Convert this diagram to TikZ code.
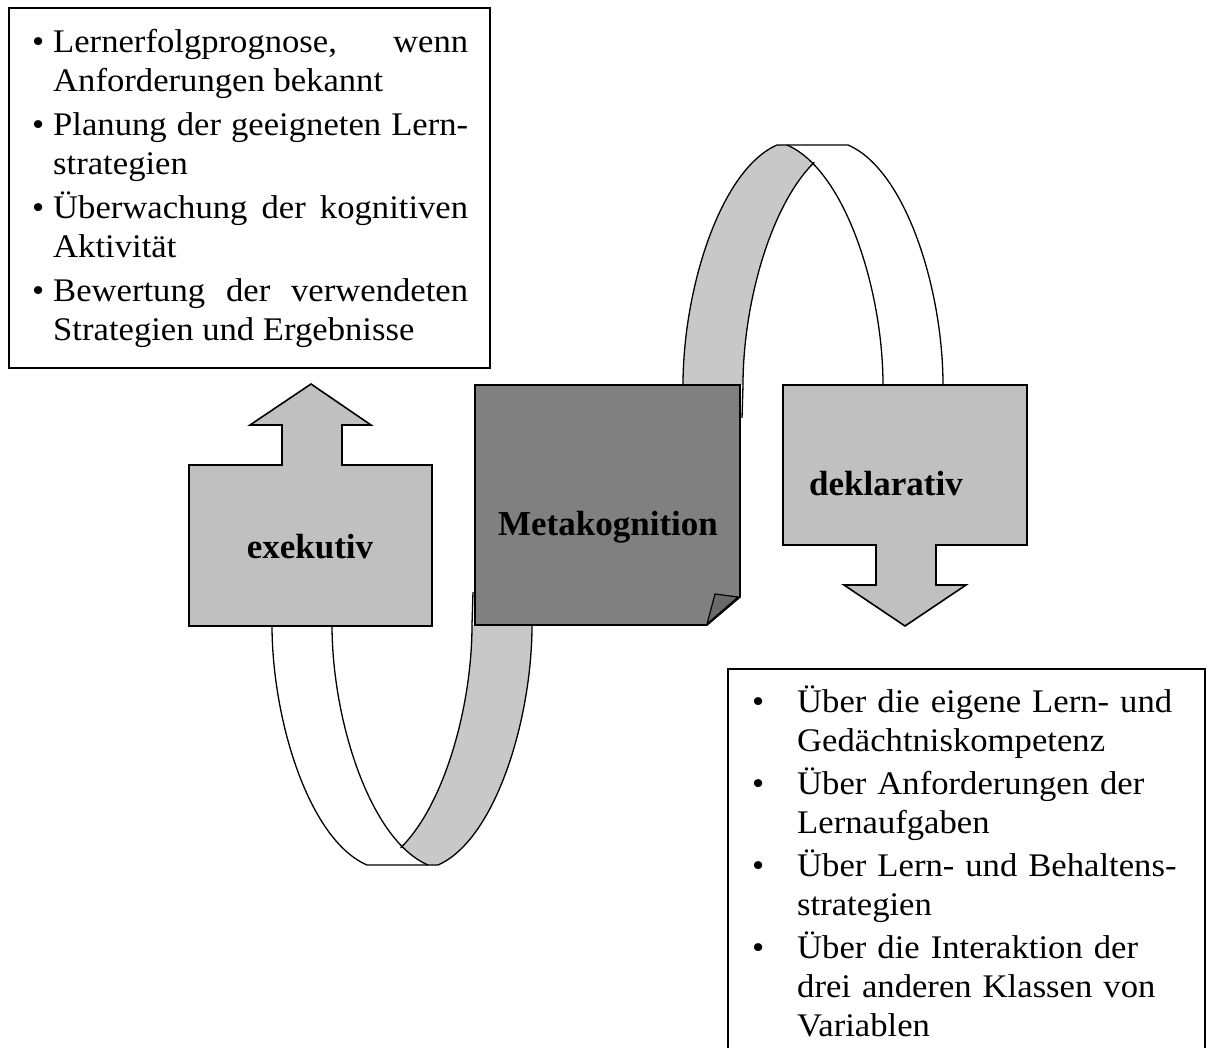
\documentclass[tikz,border=0pt]{standalone}
\usepackage{fontspec}
\setmainfont{Liberation Serif}
\newfontfamily\listfont[FakeStretch=1.05]{Liberation Serif}
\definecolor{bandgray}{HTML}{C8C8C8}
\definecolor{boxgray}{HTML}{C0C0C0}
\definecolor{metagray}{HTML}{808080}
\definecolor{foldgray}{HTML}{6A6A6A}
\newcommand\bulletline[1]{\noindent\hangindent=#1\hangafter=1\makebox[#1][l]{\textbullet}}
\newcommand\drawribbonarch{%
  \fill[bandgray] (683,385) .. controls (683,290) and (720,170) .. (777,145)
     -- (787,145) .. controls (795.7,148.75) and (803.95,154.64) .. (811.7,162.25)
     -- (814.3,162.25) .. controls (770.4,205.4) and (743,304.25) .. (743,385) -- cycle;
  \draw[archedge] (683,385) .. controls (683,290) and (720,170) .. (777,145)
     -- (848,145) .. controls (906,170) and (943,290) .. (943,385);
  \draw[archedge] (787,145) .. controls (845,170) and (883,290) .. (883,385);
  \draw[archedge] (814.3,162.25) .. controls (770.4,205.4) and (743,304.25) .. (743,385) -- (742,418);
}
\begin{document}
\begin{tikzpicture}[x=1pt,y=-1pt,
  archedge/.style={draw=black,line width=1.3pt},
  shapebox/.style={draw=black,line width=1.6pt,line join=miter},
  framebox/.style={draw=black,line width=1.6pt},
  boldlabel/.style={inner sep=0pt,font=\fontsize{35}{40}\selectfont\bfseries},
  listtext/.style={inner sep=0pt,anchor=base west,font=\listfont\fontsize{33}{39}\selectfont}]
\useasboundingbox[fill=white] (0,0) rectangle (1210,1048);

% ribbon: upper arch and the same arch turned about the centre of the middle box
\drawribbonarch
\begin{scope}[rotate around={180:(607.5,505)}]
  \drawribbonarch
\end{scope}

% exekutiv block arrow (up)
\filldraw[shapebox,fill=boxgray] (189,465) -- (282,465) -- (282,425) -- (250,425) -- (311,384)
   -- (371,425) -- (342,425) -- (342,465) -- (432,465) -- (432,626) -- (189,626) -- cycle;
\node[boldlabel,anchor=base] (exek) at (310,558) {exekutiv};

% deklarativ block arrow (down)
\filldraw[shapebox,fill=boxgray] (783,385) -- (1027,385) -- (1027,545) -- (936,545) -- (936,585)
   -- (966,585) -- (905,626) -- (844,585) -- (876,585) -- (876,545) -- (783,545) -- cycle;
\node[boldlabel,anchor=base west] (dekl) at (809,495) {deklarativ};

% Metakognition box with folded corner
\filldraw[shapebox,fill=metagray] (475,385) -- (740,385) -- (740,597) -- (707,625) -- (475,625) -- cycle;
\filldraw[draw=black,line width=1.2pt,fill=foldgray] (707,624) -- (715,594) -- (738,597) -- cycle;
\node[boldlabel,anchor=base] (meta) at (608,535) {Metakognition};

% upper left list
\draw[framebox] (9,8) rectangle (490,368);
\node[listtext,text width=436pt,align=justify] (exlist) at (32,53) {%
\bulletline{21pt}Lernerfolgprognose, wenn\linebreak Anforderungen bekannt\par\vskip5pt
\bulletline{21pt}Planung der geeigneten Lern-\linebreak strategien\par\vskip5pt
\bulletline{21pt}Überwachung der kognitiven\linebreak Aktivität\par\vskip5pt
\bulletline{21pt}Bewertung der verwendeten\linebreak Strategien und Ergebnisse\par};

% lower right list
\draw[framebox] (728,1060) -- (728,669) -- (1205,669) -- (1205,1060);
\node[listtext,text width=450pt] (deklist) at (752,712) {%
\rightskip=0pt plus 1fil\parfillskip=0pt plus 1fil
\bulletline{45pt}Über die eigene Lern- und\hfil\break Gedächtniskompetenz\par\vskip4pt
\bulletline{45pt}Über Anforderungen der\hfil\break Lernaufgaben\par\vskip4pt
\bulletline{45pt}Über Lern- und Behaltens-\hfil\break strategien\par\vskip4pt
\bulletline{45pt}Über die Interaktion der\hfil\break drei anderen Klassen von\hfil\break Variablen\par};
\end{tikzpicture}
\end{document}
